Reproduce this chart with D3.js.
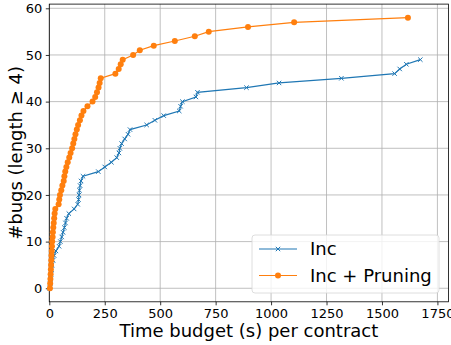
<!DOCTYPE html>
<html>
<head>
<meta charset="utf-8">
<script src="https://cdn.jsdelivr.net/npm/d3@7"></script>
<style>
  body { margin: 0; background: #fff; }
  svg { font-family: "DejaVu Sans", sans-serif; }
</style>
</head>
<body>
<div id="chart"></div>
<script>
// bugs found (y) at each time budget (x)
const incTimes = [2, 4, 6, 8, 10, 13, 17, 22, 30, 44, 50, 56, 62, 68, 73, 78, 88, 112, 128, 132,
  134, 136, 139, 143, 152, 221, 250, 280, 304, 314, 318, 326, 340, 355, 364, 439, 476, 516, 586, 592,
  600, 661, 668, 889, 1036, 1317, 1557, 1580, 1610, 1673];
const incBugs = d3.range(0, 50);

const pruneTimes = [3, 4, 5, 6, 7, 8, 9, 10, 11, 12, 13, 15, 16, 18, 20, 22, 24, 27, 42, 45,
  48, 54, 59, 65, 68, 72, 77, 83, 90, 96, 103, 108, 113, 118, 124, 130, 138, 145, 154, 172,
  195, 207, 215, 222, 227, 232, 298, 313, 322, 331, 378, 408, 471, 566, 656, 719, 896, 1104, 1617];
const pruneBugs = d3.range(0, 59);

const xTicks = [0, 250, 500, 750, 1000, 1250, 1500, 1750];
const yTicks = [0, 10, 20, 30, 40, 50, 60];

const seriesNames = ["Inc", "Inc + Pruning"];
const colors = ["#1f77b4", "#ff7f0e"];

const W = 451, H = 345;
const margin = { left: 49.3, right: 2.5, top: 4.1, bottom: 43.2 };

const svg = d3.select("#chart").append("svg")
  .attr("width", W).attr("height", H);

const x = d3.scaleLinear().domain([0, 1800]).range([margin.left, W - margin.right]);
const y = d3.scaleLinear().domain([-2.9, 60.9]).range([H - margin.bottom, margin.top]);

// grid
svg.append("g").selectAll("line").data(xTicks).enter().append("line")
  .attr("x1", d => x(d)).attr("x2", d => x(d))
  .attr("y1", y.range()[0]).attr("y2", y.range()[1])
  .attr("stroke", "#b0b0b0").attr("stroke-width", 0.8);
svg.append("g").selectAll("line").data(yTicks).enter().append("line")
  .attr("y1", d => y(d)).attr("y2", d => y(d))
  .attr("x1", x.range()[0]).attr("x2", x.range()[1])
  .attr("stroke", "#b0b0b0").attr("stroke-width", 0.8);

// axes
const xAxis = svg.append("g")
  .attr("transform", "translate(0," + y.range()[0] + ")")
  .call(d3.axisBottom(x).tickValues(xTicks).tickFormat(d3.format("d"))
    .tickSize(3.5).tickPadding(3).tickSizeOuter(0));
const yAxis = svg.append("g")
  .attr("transform", "translate(" + x.range()[0] + ",0)")
  .call(d3.axisLeft(y).tickValues(yTicks).tickFormat(d3.format("d"))
    .tickSize(3.5).tickPadding(3.5).tickSizeOuter(0));
[xAxis, yAxis].forEach(function (g) {
  g.selectAll("text").attr("font-size", "13px").attr("fill", "#000")
    .attr("font-family", "DejaVu Sans");
  g.selectAll("line").attr("stroke", "#000").attr("stroke-width", 0.8);
  g.select(".domain").remove();
});

// frame
svg.append("rect")
  .attr("x", x.range()[0]).attr("y", y.range()[1])
  .attr("width", x.range()[1] - x.range()[0])
  .attr("height", y.range()[0] - y.range()[1])
  .attr("fill", "none").attr("stroke", "#000").attr("stroke-width", 0.8);

// lines
const line = d3.line().x(d => x(d[0])).y(d => y(d[1]));
const incData = d3.zip(incTimes, incBugs);
const pruneData = d3.zip(pruneTimes, pruneBugs);

function cross(g, cx, cy, s, color) {
  g.append("path")
    .attr("d", "M" + (cx - s) + "," + (cy - s) + "L" + (cx + s) + "," + (cy + s) +
      "M" + (cx - s) + "," + (cy + s) + "L" + (cx + s) + "," + (cy - s))
    .attr("stroke", color).attr("stroke-width", 1).attr("fill", "none");
}

svg.append("path").datum(incData)
  .attr("d", line).attr("fill", "none")
  .attr("stroke", colors[0]).attr("stroke-width", 1.2);
const incMarks = svg.append("g");
incData.forEach(function (d) { cross(incMarks, x(d[0]), y(d[1]), 2.2, colors[0]); });

svg.append("path").datum(pruneData)
  .attr("d", line).attr("fill", "none")
  .attr("stroke", colors[1]).attr("stroke-width", 1.2);
svg.append("g").selectAll("circle").data(pruneData).enter().append("circle")
  .attr("cx", d => x(d[0])).attr("cy", d => y(d[1])).attr("r", 3)
  .attr("fill", colors[1]);

// axis labels
svg.append("text")
  .attr("x", (x.range()[0] + x.range()[1]) / 2).attr("y", 337)
  .attr("text-anchor", "middle").attr("font-size", "18px")
  .text("Time budget (s) per contract");
svg.append("text")
  .attr("transform", "translate(22," + (y.range()[0] + y.range()[1]) / 2 + ") rotate(-90)")
  .attr("text-anchor", "middle").attr("font-size", "18px")
  .text("#bugs (length \u2265 4)");

// legend
const lg = svg.append("g").attr("transform", "translate(252,235)");
lg.append("rect").attr("width", 187).attr("height", 58).attr("rx", 3)
  .attr("fill", "#fff").attr("fill-opacity", 0.8)
  .attr("stroke", "#d6d6d6").attr("stroke-width", 0.8);
seriesNames.forEach(function (name, i) {
  const ry = 14 + i * 26.5;
  lg.append("line").attr("x1", 7).attr("x2", 45).attr("y1", ry).attr("y2", ry)
    .attr("stroke", colors[i]).attr("stroke-width", 1.2);
  if (i === 0) cross(lg, 26, ry, 2.2, colors[0]);
  else lg.append("circle").attr("cx", 26).attr("cy", ry).attr("r", 3).attr("fill", colors[1]);
  lg.append("text").attr("x", 58).attr("y", ry + 6).attr("font-size", "18px").text(name);
});
</script>
</body>
</html>
